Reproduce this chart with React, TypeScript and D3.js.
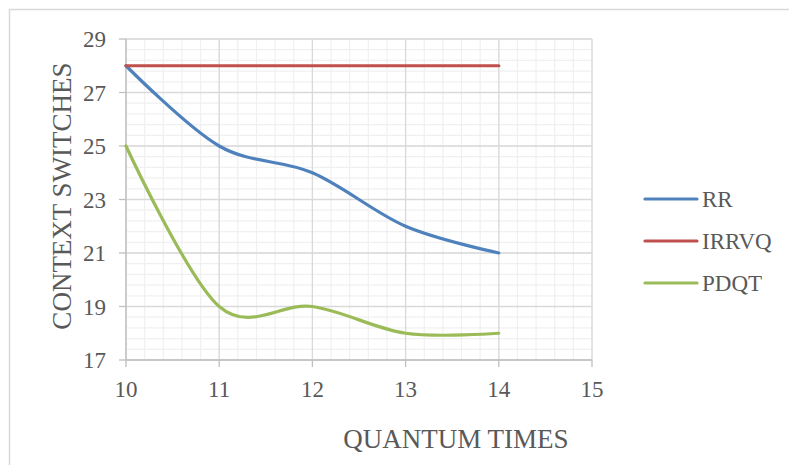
import React from 'react';
import * as d3 from 'd3';

const quantum = [10, 11, 12, 13, 14];
const rr = [28, 25, 24, 22, 21];
const irrvq = [28, 28, 28, 28, 28];
const pdqt = [25, 19, 19, 18, 18];
const xTicks = [10, 11, 12, 13, 14, 15];
const yTicks = [17, 19, 21, 23, 25, 27, 29];

const series = [
  { name: 'RR', values: rr, color: '#4f81bd' },
  { name: 'IRRVQ', values: irrvq, color: '#c0504d' },
  { name: 'PDQT', values: pdqt, color: '#9bbb59' },
];

const W = 789;
const H = 465;
const FONT = "'Liberation Serif', 'Times New Roman', serif";
const TXT = '#595959';

const App = () => {
  const x = d3.scaleLinear().domain([10, 15]).range([126, 592]);
  const y = d3.scaleLinear().domain([17, 29]).range([360, 39]);

  const minorX = d3.range(10, 15.001, 0.2);
  const minorY = d3.range(17, 29.001, 0.4);

  const line = d3.line<number>()
    .x((_, i) => x(quantum[i]))
    .y(d => y(d))
    .curve(d3.curveCardinal.tension(0));

  const [x0, x1] = x.range();
  const [y0, y1] = y.range();

  return (
    <svg width={W} height={H} style={{ position: 'absolute', left: 0, top: 0, background: '#fff' }}>
      <rect x={9.5} y={9.5} width={800} height={470} fill="#fff" stroke="#d9d9d9" strokeWidth={1.5} />

      {/* minor grid */}
      {minorX.map((v, i) => (
        <line key={'mx' + i} x1={x(v)} x2={x(v)} y1={y1} y2={y0} stroke="#f0f0f0" strokeWidth={1.2} />
      ))}
      {minorY.map((v, i) => (
        <line key={'my' + i} x1={x0} x2={x1} y1={y(v)} y2={y(v)} stroke="#f0f0f0" strokeWidth={1.2} />
      ))}

      {/* major grid */}
      {xTicks.map(v => (
        <line key={'gx' + v} x1={x(v)} x2={x(v)} y1={y1} y2={y0} stroke="#d9d9d9" strokeWidth={1.3} />
      ))}
      {yTicks.map(v => (
        <line key={'gy' + v} x1={x0} x2={x1} y1={y(v)} y2={y(v)} stroke="#d9d9d9" strokeWidth={1.3} />
      ))}

      {/* axes */}
      <line x1={x0} x2={x0} y1={y1} y2={y0} stroke="#bfbfbf" strokeWidth={1.3} />
      <line x1={x0} x2={x1} y1={y0} y2={y0} stroke="#bfbfbf" strokeWidth={1.3} />
      {yTicks.map(v => (
        <line key={'ty' + v} x1={x0 - 7} x2={x0} y1={y(v)} y2={y(v)} stroke="#bfbfbf" strokeWidth={1.3} />
      ))}
      {xTicks.map(v => (
        <line key={'tx' + v} x1={x(v)} x2={x(v)} y1={y0} y2={y0 + 7} stroke="#bfbfbf" strokeWidth={1.3} />
      ))}

      {/* tick labels */}
      {yTicks.map(v => (
        <text key={'ly' + v} x={x0 - 20} y={y(v)} dy="0.35em" textAnchor="end"
          fontFamily={FONT} fontSize={23} fill={TXT}>{v}</text>
      ))}
      {xTicks.map(v => (
        <text key={'lx' + v} x={x(v)} y={y0 + 37} textAnchor="middle"
          fontFamily={FONT} fontSize={23} fill={TXT}>{v}</text>
      ))}

      {/* series */}
      {series.map(s => (
        <path key={s.name} d={line(s.values) || ''} fill="none" stroke={s.color}
          strokeWidth={3.2} strokeLinecap="round" />
      ))}

      {/* axis titles */}
      <text x={456} y={448} textAnchor="middle" fontFamily={FONT} fontSize={27} fill={TXT}>QUANTUM TIMES</text>
      <text transform="translate(71,196) rotate(-90)" textAnchor="middle" fontFamily={FONT} fontSize={27}
        fill={TXT}>CONTEXT SWITCHES</text>

      {/* legend */}
      {series.map((s, i) => {
        const ly = 199 + i * 42;
        return (
          <g key={'lg' + s.name}>
            <line x1={645} x2={697} y1={ly} y2={ly} stroke={s.color} strokeWidth={3.2} strokeLinecap="round" />
            <text x={702} y={ly} dy="0.35em" fontFamily={FONT} fontSize={23} fill={TXT}>{s.name}</text>
          </g>
        );
      })}
    </svg>
  );
};

export default App;
